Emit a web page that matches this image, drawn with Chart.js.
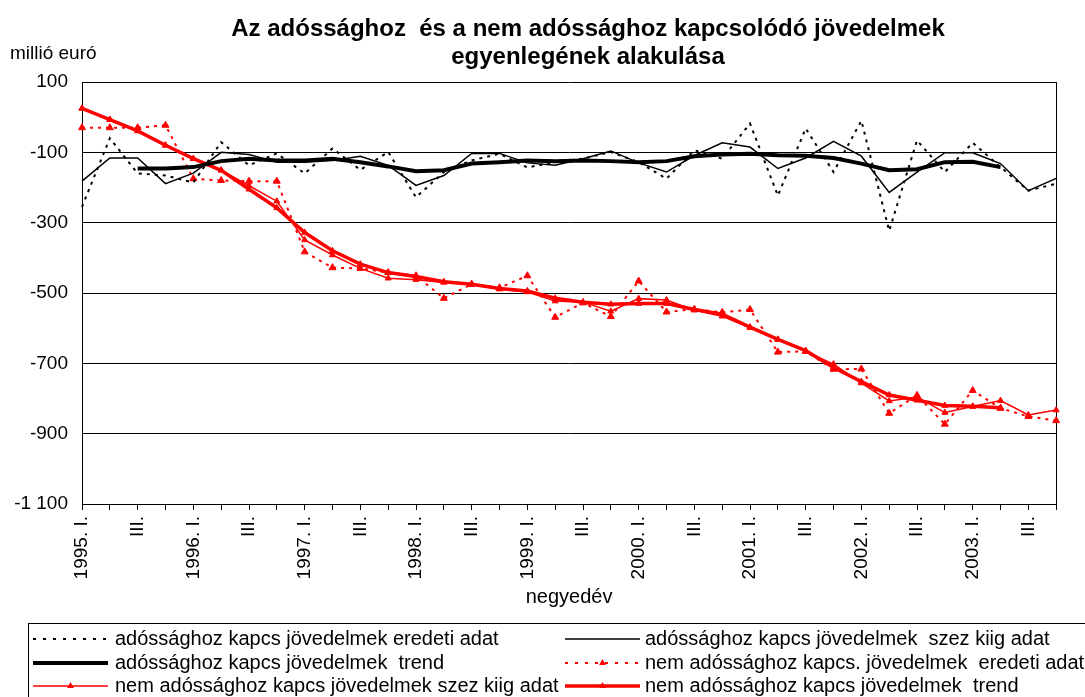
<!DOCTYPE html>
<html><head><meta charset="utf-8">
<script src="https://cdn.jsdelivr.net/npm/chart.js@4/dist/chart.umd.min.js"></script>
<style>html,body{margin:0;padding:0;background:#fff;}canvas{display:block}</style>
</head><body>
<canvas id="c" width="1085" height="697"></canvas>
<script>
const categories = [
 "1995. I.","1995. II.","1995. III.","1995. IV.",
 "1996. I.","1996. II.","1996. III.","1996. IV.",
 "1997. I.","1997. II.","1997. III.","1997. IV.",
 "1998. I.","1998. II.","1998. III.","1998. IV.",
 "1999. I.","1999. II.","1999. III.","1999. IV.",
 "2000. I.","2000. II.","2000. III.","2000. IV.",
 "2001. I.","2001. II.","2001. III.","2001. IV.",
 "2002. I.","2002. II.","2002. III.","2002. IV.",
 "2003. I.","2003. II.","2003. III.","2003. IV."];
const tickLabels = [
 "1995. I.","","III.","", "1996. I.","","III.","", "1997. I.","","III.","",
 "1998. I.","","III.","", "1999. I.","","III.","", "2000. I.","","III.","",
 "2001. I.","","III.","", "2002. I.","","III.","", "2003. I.","","III.",""];

const adEredeti = [-255,-60,-160,-166,-186,-71,-137,-103,-160,-89,-150,-99,-228,-156,-123,-104,-143,-128,-118,-99,-128,-175,-94,-118,-18,-223,-32,-156,-10,-323,-66,-156,-73,-142,-209,-189];
const adSzez = [-182,-116,-116,-189,-159,-100,-106,-128,-128,-123,-111,-137,-194,-166,-103,-103,-130,-137,-118,-96,-130,-156,-109,-73,-85,-146,-116,-69,-111,-214,-156,-101,-101,-132,-209,-174];
const adTrend = [null,null,-146,-146,-142,-125,-118,-123,-123,-118,-128,-140,-154,-151,-132,-128,-123,-125,-123,-125,-128,-125,-111,-106,-104,-108,-110,-116,-132,-151,-148,-128,-127,-142,null,null];
const nemEredeti = [-30,-30,-30,-23,-175,-180,-182,-182,-383,-428,-430,-442,-451,-515,-475,-485,-451,-569,-528,-567,-466,-554,-546,-555,-547,-668,-666,-717,-716,-842,-791,-873,-777,-828,-851,-863];
const nemSzez = [25,-7,-39,-80,-118,-151,-195,-239,-349,-392,-430,-458,-462,-470,-475,-489,-497,-523,-526,-552,-516,-520,-549,-566,-599,-632,-666,-702,-756,-807,-796,-840,-823,-806,-847,-833];
const nemTrend = [25,-7,-39,-80,-118,-151,-205,-258,-328,-380,-418,-442,-453,-468,-475,-487,-494,-515,-526,-532,-530,-530,-547,-560,-597,-632,-664,-712,-752,-790,-805,-820,-822,-826,null,null];

const legendLabels = [
 "adóssághoz kapcs jövedelmek eredeti adat",
 "adóssághoz kapcs jövedelmek  szez kiig adat",
 "adóssághoz kapcs jövedelmek  trend",
 "nem adóssághoz kapcs. jövedelmek  eredeti adat",
 "nem adóssághoz kapcs jövedelmek szez kiig adat",
 "nem adóssághoz kapcs jövedelmek  trend"];
const titleLines = ["Az adóssághoz  és a nem adóssághoz kapcsolódó jövedelmek", "egyenlegének alakulása"];
const unitLabel = "millió euró";
const xTitle = "negyedév";

const FONT = '"Liberation Sans", Arial, sans-serif';
const RED = '#ff0000';

function fmt(v){
  const a = Math.abs(v);
  let s = a >= 1000 ? Math.floor(a/1000) + ' ' + String(a%1000).padStart(3,'0') : String(a);
  return (v < 0 ? '-' : '') + s;
}

const datasets = [
 {label: legendLabels[0], data: adEredeti, borderColor:'#000', borderWidth:2, borderDash:[3,5], pointRadius:0},
 {label: legendLabels[1], data: adSzez, borderColor:'#000', borderWidth:1.5, pointRadius:0},
 {label: legendLabels[2], data: adTrend, borderColor:'#000', borderWidth:4, pointRadius:0},
 {label: legendLabels[3], data: nemEredeti, borderColor:RED, backgroundColor:RED, borderWidth:2, borderDash:[3,5], pointStyle:'triangle', pointRadius:4, pointBorderWidth:1},
 {label: legendLabels[4], data: nemSzez, borderColor:RED, backgroundColor:RED, borderWidth:1.5, pointStyle:'triangle', pointRadius:3.5, pointBorderWidth:1},
 {label: legendLabels[5], data: nemTrend, borderColor:RED, backgroundColor:RED, borderWidth:3.5, pointStyle:'triangle', pointRadius:3.5, pointBorderWidth:1}
];

function tri(ctx, x, y, r){
  ctx.beginPath();
  ctx.moveTo(x, y - r);
  ctx.lineTo(x + r*0.866, y + r*0.5);
  ctx.lineTo(x - r*0.866, y + r*0.5);
  ctx.closePath();
  ctx.fill();
}

const decor = {
  id:'decor',
  afterDraw(chart){
    const ctx = chart.ctx;
    ctx.save();
    ctx.fillStyle = '#000';
    ctx.font = 'bold 24px ' + FONT;
    ctx.textAlign = 'center';
    ctx.textBaseline = 'middle';
    ctx.fillText(titleLines[0], 588, 29);
    ctx.fillText(titleLines[1], 588, 57);
    ctx.font = '19px ' + FONT;
    ctx.textAlign = 'left';
    ctx.textBaseline = 'alphabetic';
    ctx.fillText(unitLabel, 10, 59);
    // legend box
    ctx.strokeStyle = '#000';
    ctx.lineWidth = 1;
    ctx.setLineDash([]);
    ctx.strokeRect(28.5, 623.5, 1070, 90);
    const rows = [639, 663, 686];
    const cols = [{lx:33, tx:115},{lx:565, tx:645}];
    chart.data.datasets.forEach((ds, i) => {
      const r = Math.floor(i/2), c = i % 2;
      const y = rows[r], x0 = cols[c].lx, x1 = x0 + 75;
      ctx.strokeStyle = ds.borderColor;
      ctx.fillStyle = ds.borderColor;
      ctx.lineWidth = ds.borderWidth;
      ctx.setLineDash(ds.borderDash ? [3,7] : []);
      ctx.beginPath();
      ctx.moveTo(x0, y); ctx.lineTo(x1, y); ctx.stroke();
      ctx.setLineDash([]);
      if (ds.pointStyle === 'triangle') tri(ctx, (x0+x1)/2, y, 4);
      ctx.fillStyle = '#000';
      ctx.font = '20px ' + FONT;
      ctx.textBaseline = 'middle';
      ctx.fillText(ds.label, cols[c].tx, y);
    });
    ctx.restore();
  }
};

new Chart(document.getElementById('c'), {
  type:'line',
  data:{labels: categories, datasets},
  options:{
    responsive:false, animation:false, devicePixelRatio:1,
    layout:{padding:{top:82, right:28, bottom:83, left:0}},
    elements:{line:{tension:0, fill:false}},
    plugins:{legend:{display:false}, tooltip:{enabled:false}, title:{display:false}},
    scales:{
      x:{
        offset:false,
        grid:{drawOnChartArea:true, color:(c)=> c.index === categories.length-1 ? '#000' : 'rgba(0,0,0,0)', tickColor:'#000', tickLength:6, lineWidth:1},
        border:{color:'#000', width:1},
        ticks:{autoSkip:false, maxRotation:90, minRotation:90, padding:6, color:'#000', font:{family:FONT, size:19},
          callback:(v,i)=> tickLabels[i]},
        title:{display:true, text:xTitle, color:'#000', font:{family:FONT, size:20}, padding:{top:0, bottom:5}},
        afterFit:(s)=>{ s.height = 110; }
      },
      y:{
        min:-1100, max:100,
        grid:{color:'#000', drawTicks:false, lineWidth:1},
        border:{color:'#000', width:1},
        ticks:{stepSize:200, padding:14, color:'#000', font:{family:FONT, size:19}, callback:(v)=>fmt(v)},
        afterFit:(s)=>{ s.width = 82; }
      }
    }
  },
  plugins:[decor]
});
</script>
</body></html>
